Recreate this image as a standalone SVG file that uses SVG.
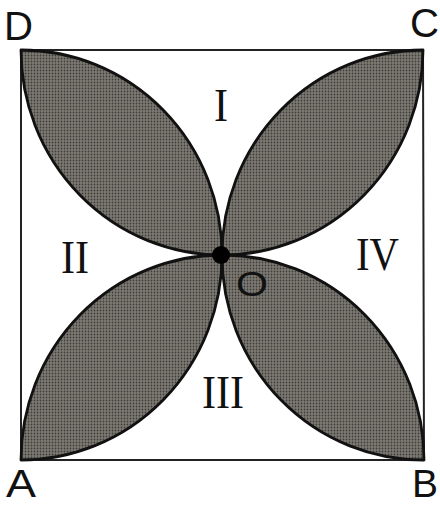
<svg xmlns="http://www.w3.org/2000/svg" width="440" height="505" viewBox="0 0 440 505">
<defs>
<pattern id="dots" width="3" height="3" patternUnits="userSpaceOnUse">
<rect width="3" height="3" fill="#7e7b74"/>
<circle cx="1.5" cy="1.5" r="0.9" fill="#3f3d39"/>
</pattern>
</defs>
<style>
.leaf{fill:url(#dots);stroke:#111;stroke-width:2.8;stroke-linejoin:round}
.sq{fill:#fff;stroke:#222;stroke-width:2}
.pt{font-family:"Liberation Sans",Arial,sans-serif;font-size:41px;fill:#111}
.rn{font-family:"Liberation Serif","Times New Roman",serif;font-size:46px;fill:#111}
</style>
<rect width="440" height="505" fill="#fff"/>
<g id="square"><path class="sq" d="M21,50 L423,50 L424,460 L21,460 Z"/></g>
<g id="leaf-D"><path class="leaf" d="M21,50 A201,205 0 0 1 222,255 A201,205 0 0 1 21,50 Z"/></g>
<g id="leaf-C"><path class="leaf" d="M423,50 A201,205 0 0 0 222,255 A201,205 0 0 0 423,50 Z"/></g>
<g id="leaf-A"><path class="leaf" d="M21,460 A201,205 0 0 1 222,255 A201,205 0 0 1 21,460 Z"/></g>
<g id="leaf-B"><path class="leaf" d="M424,460 A201,205 0 0 0 222,255 A201,205 0 0 0 424,460 Z"/></g>
<g id="center-O"><circle cx="221" cy="255" r="9" fill="#000"/></g>
<g id="connectors"></g>
<g id="labels">
<text class="pt" x="4" y="40" textLength="29" lengthAdjust="spacingAndGlyphs">D</text>
<text class="pt" x="410" y="37" textLength="29" lengthAdjust="spacingAndGlyphs">C</text>
<text class="pt" x="6" y="497" style="font-size:39px" textLength="30" lengthAdjust="spacingAndGlyphs">A</text>
<text class="pt" x="412" y="497" style="font-size:39px" textLength="26" lengthAdjust="spacingAndGlyphs">B</text>
<text class="pt" x="236" y="296" style="font-size:35px" textLength="32" lengthAdjust="spacingAndGlyphs">O</text>
<text class="rn" x="214" y="121" textLength="14" lengthAdjust="spacingAndGlyphs">I</text>
<text class="rn" x="61" y="273" textLength="28" lengthAdjust="spacingAndGlyphs">II</text>
<text class="rn" x="356" y="270" textLength="43" lengthAdjust="spacingAndGlyphs">IV</text>
<text class="rn" x="202" y="408" textLength="42" lengthAdjust="spacingAndGlyphs">III</text>
</g>
</svg>
